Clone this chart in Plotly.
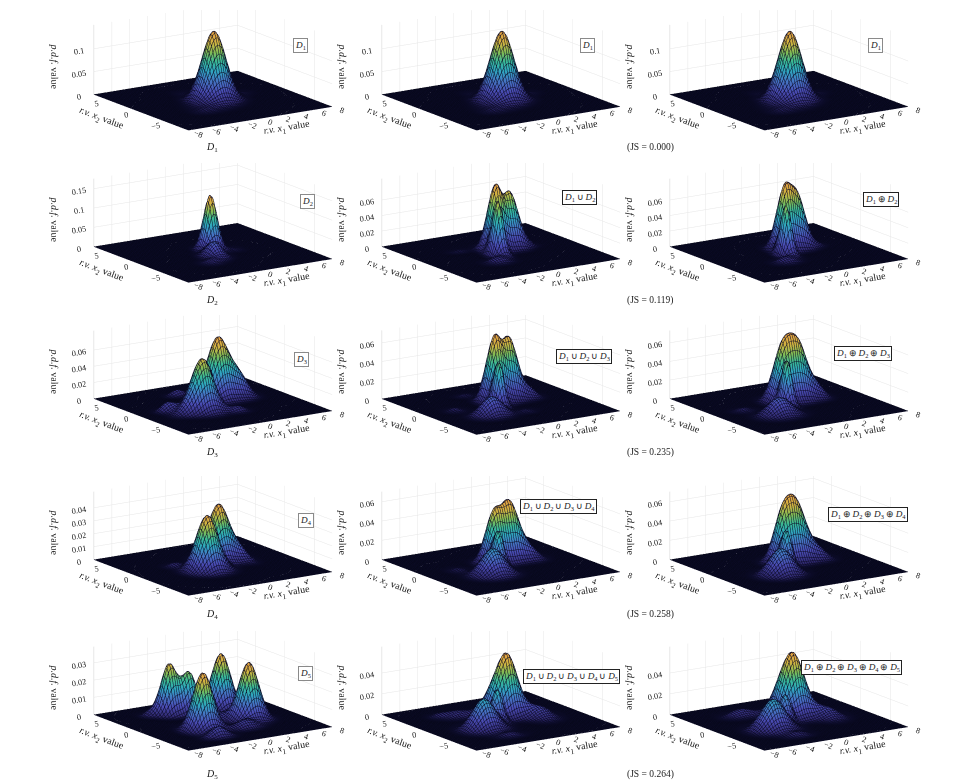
import numpy as np
import plotly.graph_objects as go

# Page geometry in pixels
W, H = 972, 784
FONT = "Liberation Serif"

# Each mixture component: x1 mean, x2 mean, x1 spread, x2 spread, height
D1 = [(0.1, 0.0, 1.12, 1.12, 0.150), (3.6, 0.6, 0.7, 0.7, 0.004), (-3.0, -3.3, 0.9, 0.7, 0.005), (-1.0, 3.6, 0.8, 0.6, 0.003), (-1.2, -1.8, 1.4, 1.2, 0.012)]
D2 = [(0.3, 0.9, 0.6, 0.72, 0.145), (-0.8, -1.4, 0.7, 0.9, 0.04), (-2.2, -3.2, 0.8, 0.7, 0.010), (2.2, -0.3, 0.6, 0.7, 0.005)]
D3 = [(1.6, 1.6, 1.05, 1.05, 0.076), (-2.2, -1.6, 1.05, 1.05, 0.064), (3.6, 1.0, 0.85, 0.9, 0.024),
      (-1.0, 4.5, 0.7, 0.5, 0.008), (-5.0, 0.0, 0.7, 0.6, 0.012), (0.5, -3.5, 0.7, 0.6, 0.007), (-4.0, -2.0, 1.0, 0.7, 0.012)]
D4 = [(1.5, 1.3, 1.05, 1.05, 0.044), (-1.5, -1.3, 1.05, 1.05, 0.043), (3.4, 0.5, 0.6, 1.2, 0.006), (-3.2, 1.6, 0.7, 0.6, 0.003)]
D5 = [(-2.2, 4.1, 0.75, 0.8, 0.0295), (-0.4, 3.4, 0.7, 0.75, 0.0235), (-2.7, -2.4, 0.95, 0.95, 0.0335), (3.0, 3.2, 0.9, 0.9, 0.0325),
      (3.0, -1.5, 0.95, 0.95, 0.0335), (-3.0, -5.5, 0.9, 0.6, 0.006), (1.0, -4.0, 1.0, 0.7, 0.005), (-4.0, 4.5, 0.6, 0.6, 0.003), (0.2, 0.2, 0.9, 0.9, 0.005)]

U2 = [(0.0, 1.0, 0.7, 0.85, 0.080), (1.8, 1.3, 0.8, 0.95, 0.070), (-1.0, -1.0, 0.48, 0.7, 0.070), (-2.2, -3.0, 0.9, 0.7, 0.008), (3.4, 0.5, 0.6, 0.6, 0.004), (-3.2, 2.2, 0.8, 0.5, 0.003)]
O2 = [(0.2, 1.1, 0.72, 0.85, 0.074), (1.7, 1.3, 0.78, 0.9, 0.066), (-1.0, -1.0, 0.46, 0.7, 0.066), (-2.2, -3.0, 0.9, 0.7, 0.008), (3.4, 0.5, 0.6, 0.6, 0.004)]
U3 = [(0.0, 1.1, 0.75, 0.9, 0.068), (1.8, 1.4, 0.8, 0.9, 0.064), (-0.9, -1.0, 0.45, 0.65, 0.048), (-3.0, -3.0, 1.1, 0.9, 0.021),
      (3.6, 0.8, 0.7, 0.8, 0.010), (-1.2, 4.3, 0.7, 0.5, 0.003), (-5.0, 0.2, 0.7, 0.6, 0.004), (0.5, -3.6, 0.7, 0.6, 0.003)]
O3 = [(0.1, 1.2, 0.9, 0.95, 0.058), (1.8, 1.2, 0.9, 0.95, 0.056), (-0.9, -1.0, 0.45, 0.65, 0.050), (-3.0, -3.0, 1.2, 1.0, 0.020),
      (3.6, 0.8, 0.7, 0.9, 0.012), (-5.0, 0.2, 0.8, 0.6, 0.004)]
U4 = [(1.8, 1.4, 0.95, 0.95, 0.060), (-0.1, 1.1, 0.8, 0.85, 0.048), (-0.9, -0.9, 0.48, 0.65, 0.036), (-2.6, -2.6, 1.15, 1.05, 0.028),
      (3.6, 0.5, 0.8, 0.9, 0.010), (-4.5, 0.5, 0.7, 0.7, 0.003)]
O4 = [(1.6, 1.3, 1.0, 1.0, 0.058), (0.0, 1.1, 0.85, 0.9, 0.044), (-0.9, -0.9, 0.48, 0.65, 0.036), (-2.6, -2.6, 1.15, 1.05, 0.028),
      (3.6, 0.5, 0.8, 0.9, 0.010)]
U5 = [(1.4, 1.1, 1.0, 1.0, 0.058), (-0.2, 1.6, 0.9, 1.1, 0.016), (-1.0, -0.9, 0.5, 0.6, 0.030), (-3.2, -2.0, 1.15, 1.05, 0.030),
      (3.6, -1.0, 1.0, 1.2, 0.011), (-2.6, 3.4, 1.1, 0.8, 0.006), (-4.2, 4.2, 0.7, 0.6, 0.003), (2.8, 3.4, 0.9, 0.8, 0.004), (-2.5, -5.4, 1.0, 0.6, 0.004)]
O5 = [(1.2, 1.0, 1.05, 1.1, 0.057), (-0.1, 1.6, 0.9, 1.1, 0.016), (-1.0, -0.9, 0.5, 0.6, 0.024), (-3.2, -2.2, 1.2, 1.1, 0.030),
      (3.6, -1.0, 1.0, 1.2, 0.010), (-2.8, 3.8, 1.2, 0.8, 0.007), (2.8, 3.4, 0.9, 0.8, 0.004), (-2.5, -5.4, 1.0, 0.6, 0.004)]

panels = [[D1, D1, D1], [D2, U2, O2], [D3, U3, O3], [D4, U4, O4], [D5, U5, O5]]

# z axis tops and tick values per panel
z_tops = [[0.149, 0.149, 0.149], [0.176, 0.0875, 0.0875], [0.084, 0.073, 0.073], [0.0525, 0.0705, 0.0705], [0.0394, 0.0654, 0.0654]]
z_ticks = [[[0, 0.05, 0.1]] * 3,
           [[0, 0.05, 0.1, 0.15], [0, 0.02, 0.04, 0.06], [0, 0.02, 0.04, 0.06]],
           [[0, 0.02, 0.04, 0.06]] * 3,
           [[0, 0.01, 0.02, 0.03, 0.04], [0, 0.02, 0.04, 0.06], [0, 0.02, 0.04, 0.06]],
           [[0, 0.01, 0.02, 0.03], [0, 0.02, 0.04], [0, 0.02, 0.04]]]

x1_ticks = [-8, -6, -4, -2, 0, 2, 4, 6, 8]
x2_ticks = [-5, 0, 5]
js_values = ["0.000", "0.119", "0.235", "0.258", "0.264"]


def sub(n):
    return f"<i>D</i><sub>{n}</sub>"


def joined(n, sym):
    return f"\u2009{sym}\u2009".join(sub(i + 1) for i in range(n))


# Where the panels sit on the page
col_x = [213, 501, 789]
row_zero = [97, 250, 402, 563, 718]
box_px = {0: [(300, 45), (587, 45), (875, 45)], 1: [(307, 201), (579, 198), (881, 199)], 2: [(301, 359), (584, 357), (863, 353)],
          3: [(306, 520), (558, 507), (868, 514)], 4: [(305, 673), (571, 676), (851, 667)]}
caption_y = [147, 300, 452, 614, 774]

grid = np.linspace(-8, 8, 65)
X1, X2 = np.meshgrid(grid, grid)


def density(components):
    z = np.zeros_like(X1)
    for m1, m2, s1, s2, h in components:
        z += h * np.exp(-0.5 * (((X1 - m1) / s1) ** 2 + ((X2 - m2) / s2) ** 2))
    return z


colorscale = [[0.0, "#02030c"], [0.012, "#0c0c2c"], [0.05, "#312a72"], [0.2, "#4a4cb4"], [0.35, "#4478c4"], [0.48, "#2fa8c0"],
              [0.6, "#38b896"], [0.72, "#80bc55"], [0.85, "#d0b440"], [1.0, "#e8a040"]]

fig = go.Figure()
SCALE = 2.34
ASPECT_Z = 0.408 * SCALE
EYE = np.array([-0.54, -0.82, 0.19]) * 4
layout = dict(width=W, height=H, margin=dict(l=0, r=0, t=0, b=0), paper_bgcolor="white", showlegend=False)
annotations = []


def axis(title, vals, text, rng):
    return dict(range=rng, tickvals=vals, ticktext=text, title=dict(text=title, font=dict(family=FONT, size=10, color="#222")),
                tickfont=dict(family=FONT, size=10, color="#222"), showbackground=False, gridcolor="#e6e6e6", gridwidth=1,
                showline=True, linecolor="#d0d0d0", linewidth=1, zeroline=False, showspikes=False, ticks="outside", ticklen=0, autorange=False)


for r in range(5):
    for c in range(3):
        n = r * 3 + c + 1
        name = "scene" if n == 1 else f"scene{n}"
        z = density(panels[r][c])
        top = max(z_tops[r][c], z.max() * 1.002)
        fig.add_trace(go.Surface(x=grid, y=grid, z=z, scene=name, showscale=False, colorscale=colorscale, cmin=0, cmax=z.max(),
                                 hoverinfo="skip", lighting=dict(ambient=1, diffuse=0, specular=0, roughness=1, fresnel=0),
                                 contours=dict(x=dict(show=True, start=-8, end=8, size=0.25, color="#0a0a24", width=1),
                                               y=dict(show=True, start=-8, end=8, size=0.25, color="#0a0a24", width=1))))
        cx, zero = col_x[c], row_zero[r]
        y0, y1 = zero - 87, zero + 60
        domain = dict(x=[(cx - 165) / W, (cx + 165) / W], y=[1 - min(y1, H) / H, 1 - max(y0, 0) / H])
        layout[name] = dict(domain=domain, bgcolor="rgba(0,0,0,0)", aspectmode="manual",
                            aspectratio=dict(x=SCALE, y=SCALE, z=ASPECT_Z * top / z_tops[r][c]),
                            camera=dict(projection=dict(type="orthographic"), eye=dict(x=EYE[0], y=EYE[1], z=EYE[2]),
                                        center=dict(x=0, y=0, z=-0.25), up=dict(x=0, y=0, z=1)),
                            xaxis=axis("<i>r.v. x</i><sub>1</sub> value", x1_ticks, [str(v).replace("-", "−") for v in x1_ticks], [-8, 8]),
                            yaxis=axis("<i>r.v. x</i><sub>2</sub> value", x2_ticks, [str(v).replace("-", "−") for v in x2_ticks], [-8, 8]),
                            zaxis=axis("<i>p.d.f.</i> value", z_ticks[r][c], [f"{v:g}" for v in z_ticks[r][c]], [0, top]))
        bx, by = box_px[r][c]
        label = sub(r + 1) if c == 0 else joined(r + 1, "∪" if c == 1 else "⊕")
        if r == 0:
            label = sub(1)
        light = c == 0 or r == 0
        annotations.append(dict(x=bx / W, y=1 - by / H, xref="paper", yref="paper", text=label, showarrow=False, bgcolor="white",
                                xanchor="center", yanchor="middle", bordercolor="#8a8a8a" if light else "#222", borderwidth=1, borderpad=1,
                                font=dict(family=FONT, size=9.2, color="#222")))
    annotations.append(dict(x=212 / W, y=1 - caption_y[r] / H, xref="paper", yref="paper", text=sub(r + 1), showarrow=False,
                            xanchor="center", yanchor="middle", font=dict(family=FONT, size=10, color="#222")))
    annotations.append(dict(x=650 / W, y=1 - caption_y[r] / H, xref="paper", yref="paper", text=f"(JS = {js_values[r]})", showarrow=False,
                            xanchor="center", yanchor="middle", font=dict(family=FONT, size=9.5, color="#222")))

layout["annotations"] = annotations
fig.update_layout(**layout)
fig.write_html("out.html")
